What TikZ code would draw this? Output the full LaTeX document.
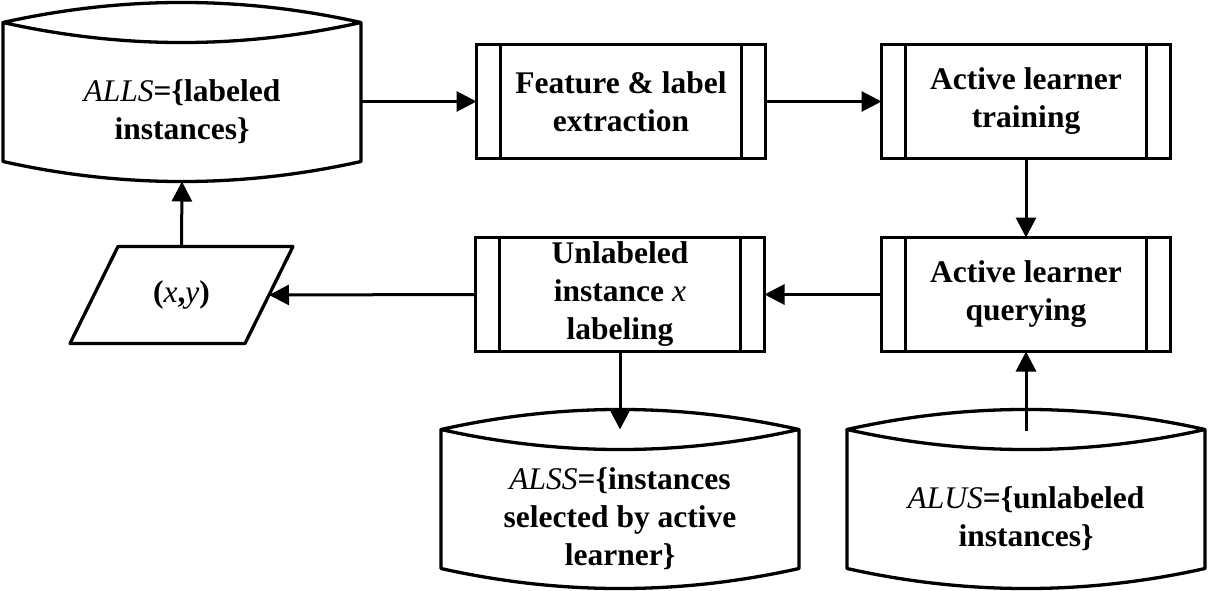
\documentclass[tikz,border=0pt]{standalone}
\usepackage{fontspec}
\setmainfont{Liberation Serif}
\usetikzlibrary{positioning,calc,arrows.meta}
\tikzset{process/.style={draw, line width=3.3pt, minimum width=289pt, minimum height=114pt, inner sep=0pt, outer sep=0pt, align=center,
	path picture={\draw[line width=3.3pt] ([xshift=24pt]path picture bounding box.north west) -- ([xshift=24pt]path picture bounding box.south west)
		([xshift=-24pt]path picture bounding box.north east) -- ([xshift=-24pt]path picture bounding box.south east);}}, }
\tikzset{store/.style={minimum width=358pt, minimum height=139pt, inner sep=0pt, outer sep=0pt, align=center}, }
\tikzset{io/.style={minimum width=175pt, minimum height=97pt, inner sep=0pt, outer sep=0pt, align=center}, }
\tikzset{shape line/.style={line width=3.3pt, line join=round}, }
\tikzset{arrow/.style={line width=3pt, -{Triangle[length=20pt,width=20pt]}}, }
\newcommand{\vn}[1]{{\mdseries\itshape #1}}
% lens-topped drum round a store node
\newcommand{\drawstore}[1]{%
	\draw[shape line] ([yshift=20pt]#1.north west)
		.. controls ($(#1.north west)!1/3!(#1.north east)+(0,46.7pt)$) and ($(#1.north west)!2/3!(#1.north east)+(0,46.7pt)$) .. ([yshift=20pt]#1.north east)
		.. controls ($(#1.north west)!2/3!(#1.north east)+(0,-6.7pt)$) and ($(#1.north west)!1/3!(#1.north east)+(0,-6.7pt)$) .. ([yshift=20pt]#1.north west)
		-- ([yshift=20pt]#1.south west)
		.. controls ($(#1.south west)!1/3!(#1.south east)+(0,-6.7pt)$) and ($(#1.south west)!2/3!(#1.south east)+(0,-6.7pt)$) .. ([yshift=20pt]#1.south east)
		-- ([yshift=20pt]#1.north east);}
% slanted box round an io node
\newcommand{\drawio}[1]{%
	\draw[shape line] ([xshift=24pt]#1.north west) -- ([xshift=24pt]#1.north east) -- ([xshift=-24pt]#1.south east) -- ([xshift=-24pt]#1.south west) -- cycle;}

\begin{document}
\begin{tikzpicture}[x=1pt, y=-1pt, font=\bfseries\fontsize{31.5}{38}\selectfont]
	\useasboundingbox (0,0) rectangle (1208,591);
	\node[process] (feat) at (621,101.5) {Feature \& label\\extraction};
	\node[process] (train) [right = 116pt of feat] {Active learner\\training};
	\node[process] (query) [below = 79pt of train] {Active learner\\querying};
	\node[process] (unlab) [left = 117pt of query] {Unlabeled\\instance \vn{x}\\labeling};
	\node[store] (alls) at (182,112) {\vn{ALLS}=\{labeled\\instances\}};
	\node[store] (alss) [below = 98pt of unlab] {\vn{ALSS}=\{instances\\selected by active\\learner\}};
	\node[store] (alus) [below = 98pt of query] {\vn{ALUS}=\{unlabeled\\instances\}};
	\node[io] (xy) at (181.5,295) {(\vn{x},\vn{y})};
	\drawstore{alls}
	\drawstore{alss}
	\drawstore{alus}
	\drawio{xy}
	\path[arrow]
		(alls.east |- feat.west) edge (feat.west)
		(feat) edge (train)
		(train) edge (query)
		(query) edge (unlab)
		(unlab.west) edge (xy.east)
		(xy.north) edge (alls.south)
		(unlab.south) edge ([yshift=20pt]alss.north)
		([yshift=19pt]alus.north) edge (query.south)
		;
\end{tikzpicture}
\end{document}
